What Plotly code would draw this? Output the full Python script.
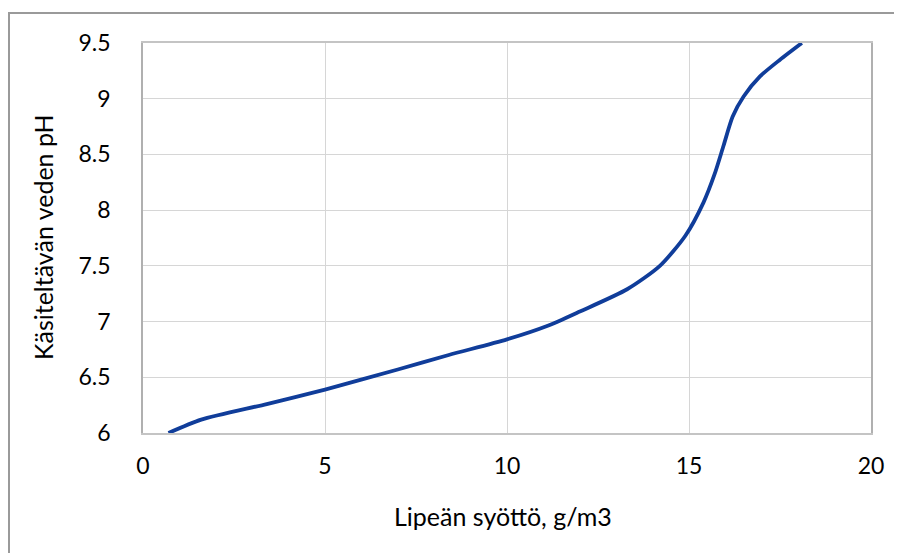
import plotly.graph_objects as go

feed = [0.7, 1.6, 3.4, 5.0, 7.0, 8.4, 10.0, 11.1, 12.0, 13.3, 14.2, 14.9, 15.4, 15.7, 15.95, 16.2, 16.5, 16.95, 17.5, 18.1]
ph = [6.0, 6.12, 6.26, 6.39, 6.57, 6.70, 6.84, 6.96, 7.09, 7.29, 7.50, 7.77, 8.07, 8.32, 8.58, 8.84, 9.02, 9.20, 9.35, 9.50]

x_ticks = [0, 5, 10, 15, 20]
y_ticks = [6, 6.5, 7, 7.5, 8, 8.5, 9, 9.5]
y_tick_text = ["6", "6.5", "7", "7.5", "8", "8.5", "9", "9.5"]
x_title = "Lipeän syöttö, g/m3"
y_title = "Käsiteltävän veden pH"

fig = go.Figure()
fig.add_trace(go.Scatter(x=feed, y=ph, mode="lines",
                         line=dict(color="#103d9a", width=3.8, shape="spline", smoothing=0.7),
                         showlegend=False, hoverinfo="skip"))

W, H = 902, 553
L, R, T, B = 135, 39, 35, 128
pw, phh = W - L - R, H - T - B

def px(x):
    return (x - L) / pw

def py(y):
    return (H - B - y) / phh

font_family = "Lato, Open Sans, sans-serif"

fig.update_layout(
    width=W, height=H,
    margin=dict(l=L, r=R, t=T, b=B),
    paper_bgcolor="white", plot_bgcolor="white",
    font=dict(family=font_family, color="#000000"),
    xaxis=dict(range=[0, 20], tickvals=x_ticks, ticktext=[str(v) for v in x_ticks],
               showgrid=True, gridcolor="#d6d6d6", gridwidth=1.3,
               showline=True, linecolor="#c4c4c4", linewidth=1.5, mirror=True,
               zeroline=False, ticks="", ticklabelstandoff=12,
               tickfont=dict(size=23, color="#000000")),
    yaxis=dict(range=[6, 9.5], tickvals=y_ticks, ticktext=y_tick_text,
               showgrid=True, gridcolor="#d6d6d6", gridwidth=1.3,
               showline=True, linecolor="#b0b0b0", linewidth=1.5, mirror=True,
               zeroline=False, ticks="", ticklabelstandoff=26,
               tickfont=dict(size=23, color="#000000")),
    annotations=[
        dict(text=x_title, xref="paper", yref="paper", x=px(495), y=py(508),
             xanchor="center", yanchor="middle", showarrow=False,
             font=dict(size=25, family=font_family, color="#000000")),
        dict(text=y_title, xref="paper", yref="paper", x=px(35), y=py(229),
             xanchor="center", yanchor="middle", showarrow=False, textangle=-90,
             font=dict(size=25, family=font_family, color="#000000")),
    ],
    shapes=[
        dict(type="line", xref="paper", yref="paper",
             x0=px(0), x1=px(902), y0=py(5), y1=py(5),
             line=dict(color="#9a9a9a", width=2)),
        dict(type="line", xref="paper", yref="paper",
             x0=px(1), x1=px(1), y0=py(5), y1=py(553),
             line=dict(color="#9a9a9a", width=2)),
    ],
)

fig.write_html("out.html")
